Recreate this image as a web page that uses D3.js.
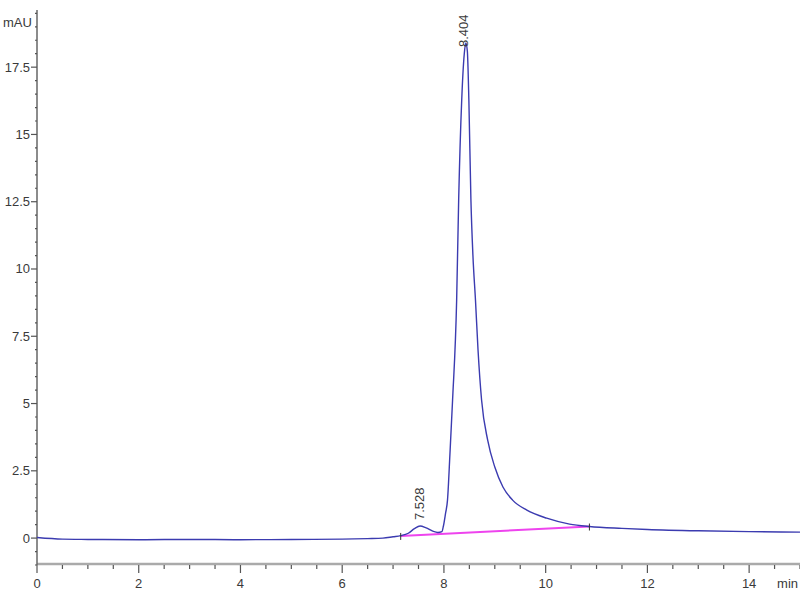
<!DOCTYPE html>
<html>
<head>
<meta charset="utf-8">
<script src="https://cdn.jsdelivr.net/npm/d3@7"></script>
<style>
  body { margin: 0; background: #fff; }
  text { font-family: "Liberation Sans Narrow", "Arial Narrow", "Liberation Sans", Arial, sans-serif; fill: #3a3a3a; }
</style>
</head>
<body>
<svg id="chart" width="800" height="600"></svg>
<script>
// retention time (min) and signal (mAU)
const times = [0, 0.5, 1, 2, 3, 4, 5, 6, 6.5, 6.8, 7.0, 7.15, 7.3, 7.42, 7.53, 7.65, 7.78, 7.88, 7.96,
  7.99, 8.03, 8.07, 8.12, 8.17, 8.25, 8.29, 8.35, 8.40, 8.43, 8.46, 8.49, 8.53, 8.57, 8.62, 8.67, 8.74, 8.86,
  9.0, 9.16, 9.35, 9.63, 10.02, 10.47, 10.86, 11.5, 12, 13, 14, 15];
const signal = [0.02, -0.04, -0.05, -0.06, -0.05, -0.06, -0.05, -0.04, -0.02, 0.0, 0.05, 0.09, 0.18, 0.35, 0.45, 0.38, 0.26, 0.21, 0.24,
  0.45, 0.9, 1.41, 3.2, 5.13, 8.85, 12.6, 16.3, 18.0, 18.4, 18.1, 16.3, 12.6, 10.5, 8.85, 7.0, 5.13, 3.64,
  2.64, 1.9, 1.41, 1.04, 0.74, 0.52, 0.43, 0.36, 0.32, 0.27, 0.24, 0.22];

// integration baseline (start/end)
const baseTimes = [7.15, 10.86];
const baseValues = [0.08, 0.43];

// peak labels
const peakTimes = [7.528, 8.404];
const peakHeights = [0.45, 18.4];

const xTicks = [0, 2, 4, 6, 8, 10, 12, 14];
const yTicks = [0, 2.5, 5, 7.5, 10, 12.5, 15, 17.5];

const svg = d3.select('#chart');
const mLeft = 37, mRight = 800, mTop = 12, mBottom = 565;

const x = d3.scaleLinear().domain([0, 15]).range([mLeft, mRight]);
const y = d3.scaleLinear().domain([-1, 19.55]).range([mBottom, mTop]);

// x axis
svg.append('line')
  .attr('x1', mLeft).attr('x2', mRight)
  .attr('y1', mBottom - 1).attr('y2', mBottom - 1)
  .attr('stroke', '#aaa').attr('stroke-width', 2.5);

const xAxis = svg.append('g').attr('transform', `translate(0, ${mBottom})`);
xAxis.selectAll('line')
  .data(d3.range(0, 15.01, 0.5))
  .enter().append('line')
  .attr('x1', d => x(d)).attr('x2', d => x(d))
  .attr('y1', 0).attr('y2', d => (d % 2 === 0 ? 8 : 4))
  .attr('stroke', '#555').attr('stroke-width', 1.2);
xAxis.selectAll('text')
  .data(xTicks)
  .enter().append('text')
  .attr('x', d => x(d)).attr('y', 23)
  .attr('text-anchor', 'middle')
  .attr('font-size', 13)
  .text(d => d);
svg.append('text')
  .attr('x', 798).attr('y', 588)
  .attr('text-anchor', 'end')
  .attr('font-size', 13)
  .text('min');

// y axis
svg.append('line')
  .attr('x1', mLeft).attr('x2', mLeft)
  .attr('y1', mTop - 2).attr('y2', mBottom)
  .attr('stroke', '#666').attr('stroke-width', 1.5);

const yAxis = svg.append('g');
yAxis.selectAll('line')
  .data(d3.range(-1, 19.51, 0.5))
  .enter().append('line')
  .attr('x1', d => (yTicks.includes(d) ? mLeft - 6 : mLeft - 2)).attr('x2', mLeft)
  .attr('y1', d => y(d)).attr('y2', d => y(d))
  .attr('stroke', '#555').attr('stroke-width', 1.2);
yAxis.selectAll('text')
  .data(yTicks)
  .enter().append('text')
  .attr('x', mLeft - 7).attr('y', d => y(d) + 4.5)
  .attr('text-anchor', 'end')
  .attr('font-size', 13)
  .text(d => d);
svg.append('text')
  .attr('x', 3).attr('y', 27)
  .attr('font-size', 13)
  .text('mAU');

// baseline under peaks
const base = baseTimes.map((t, i) => [t, baseValues[i]]);
svg.append('path')
  .datum(base)
  .attr('fill', 'none')
  .attr('stroke', '#ee44ee')
  .attr('stroke-width', 2)
  .attr('d', d3.line().x(d => x(d[0])).y(d => y(d[1])));

// trace
const trace = times.map((t, i) => [t, signal[i]]);
svg.append('path')
  .datum(trace)
  .attr('fill', 'none')
  .attr('stroke', '#3b3bb0')
  .attr('stroke-width', 1.4)
  .attr('d', d3.line().curve(d3.curveMonotoneX).x(d => x(d[0])).y(d => y(d[1])));

// start / end markers of the integration
svg.selectAll('.mark')
  .data(base)
  .enter().append('line')
  .attr('x1', d => x(d[0])).attr('x2', d => x(d[0]))
  .attr('y1', d => y(d[1]) - 3).attr('y2', d => y(d[1]) + 4)
  .attr('stroke', '#333').attr('stroke-width', 1);

// peak labels, rotated
svg.selectAll('.plabel')
  .data(peakTimes)
  .enter().append('text')
  .attr('transform', (d, i) => {
    const ty = Math.max(y(peakHeights[i]) - 6, 47);
    return `translate(${x(d) + 4}, ${ty}) rotate(-90)`;
  })
  .attr('font-size', 13)
  .text(d => d3.format('.3f')(d));
</script>
</body>
</html>
